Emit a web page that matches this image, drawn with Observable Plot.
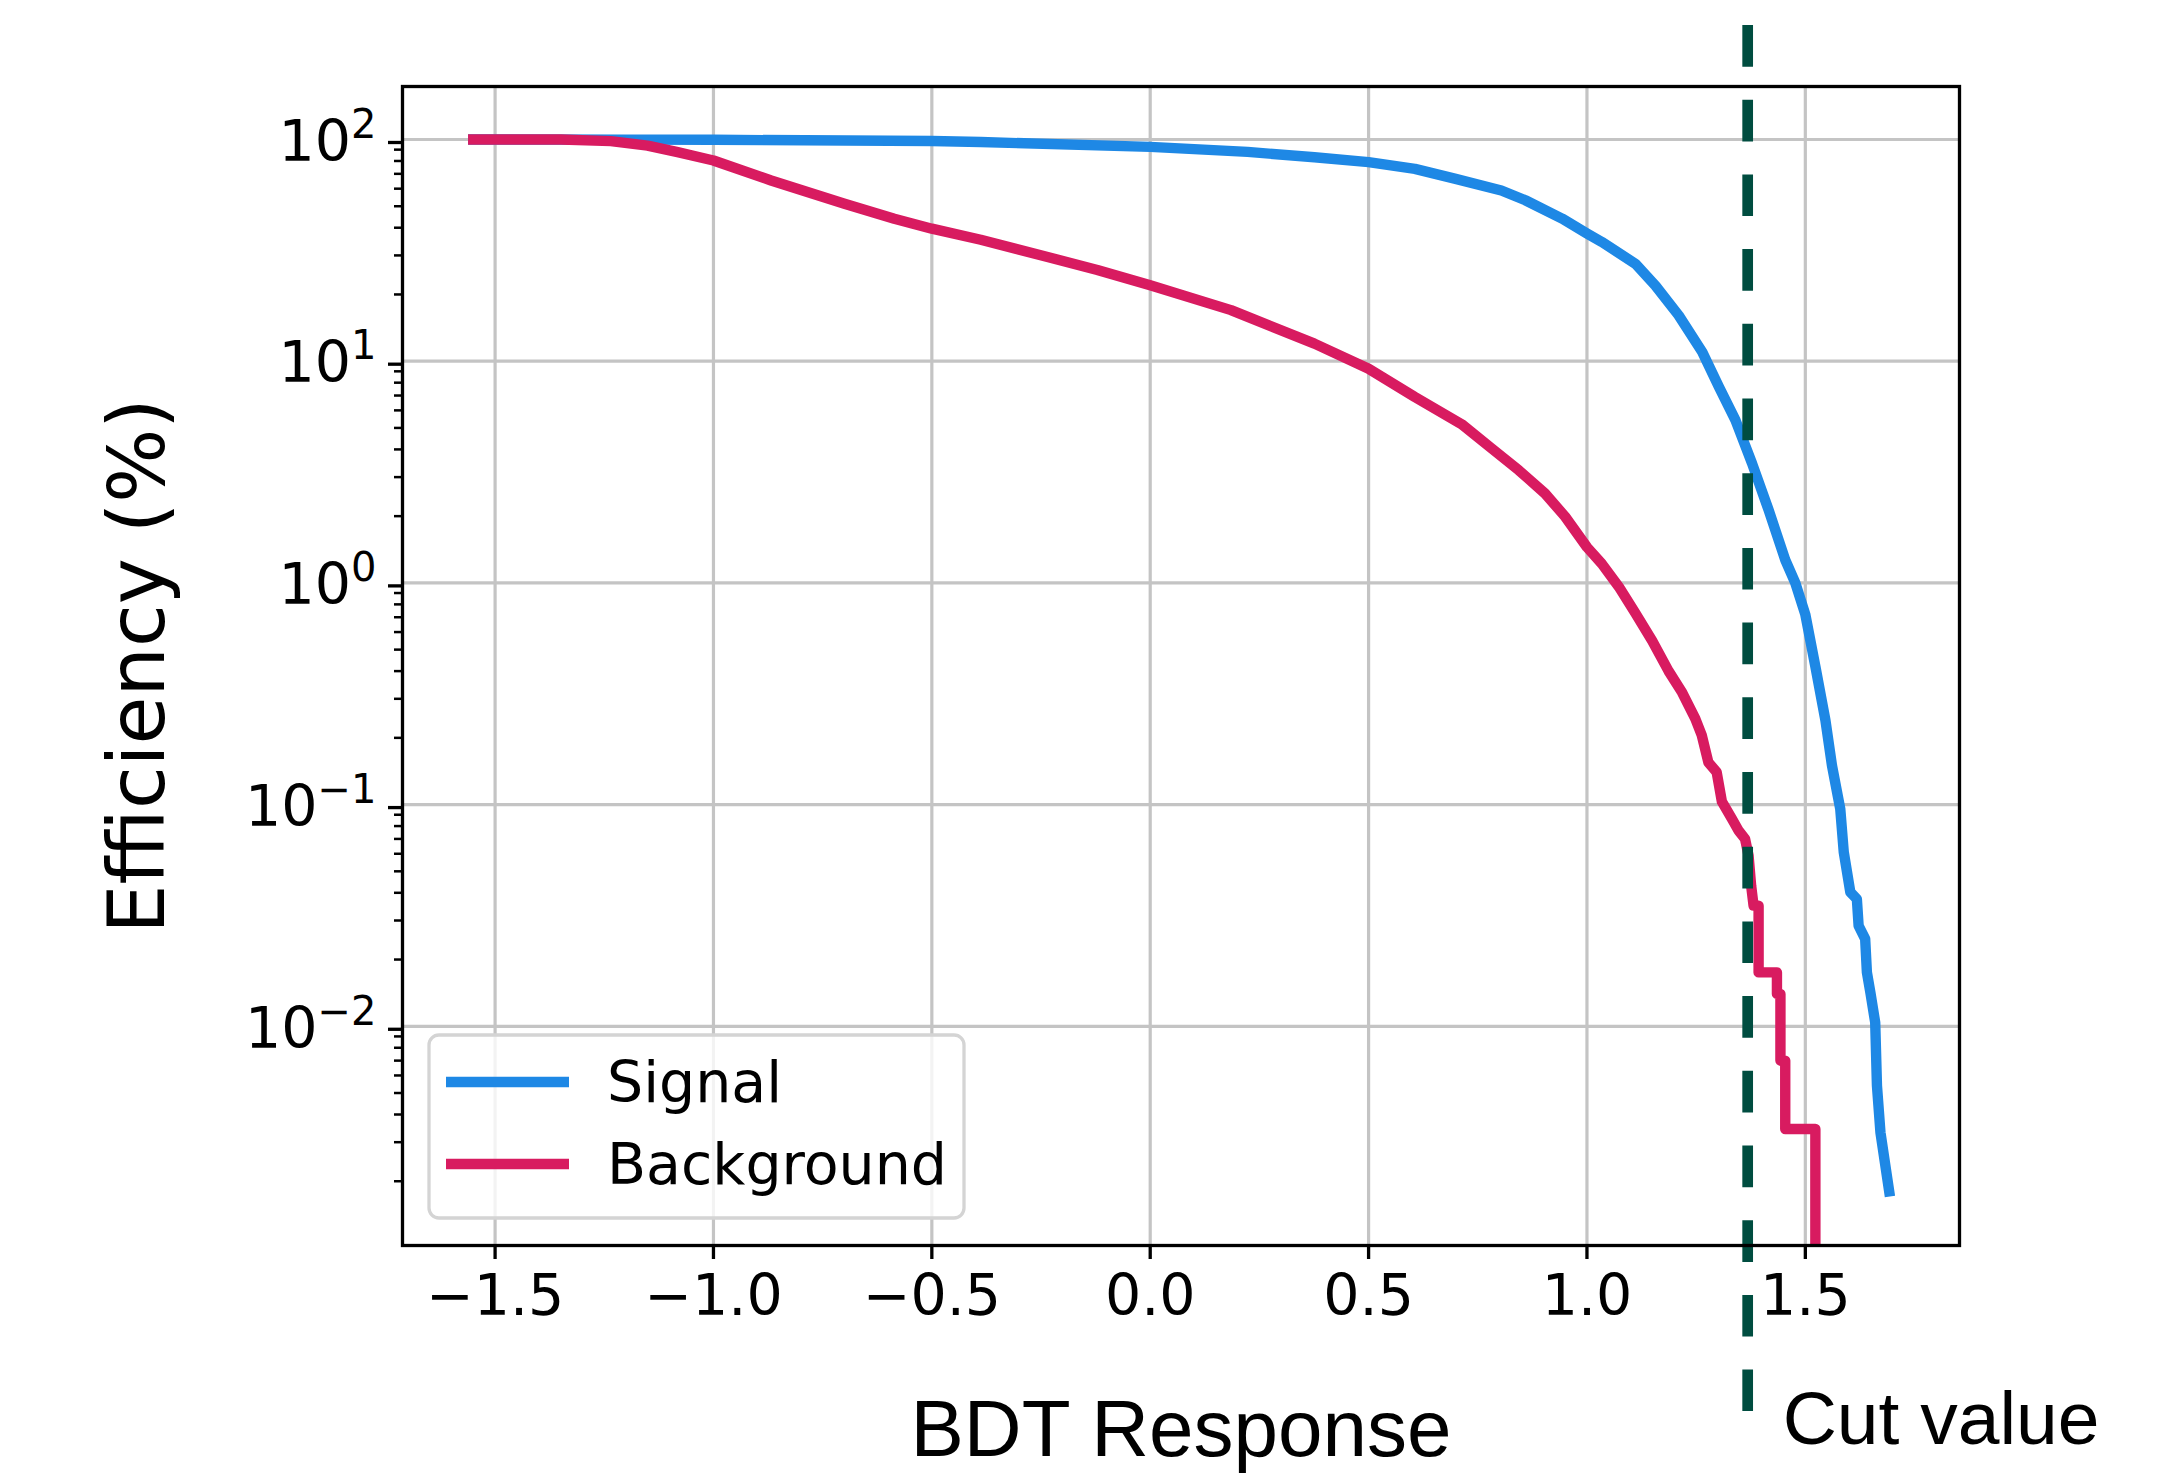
<!DOCTYPE html>
<html>
<head>
<meta charset="utf-8">
<script src="https://cdn.jsdelivr.net/npm/d3@7"></script>
<script src="https://cdn.jsdelivr.net/npm/@observablehq/plot@0.6"></script>
<style>
html, body { margin: 0; padding: 0; background: #ffffff; }
</style>
</head>
<body>
<div id="chart"></div>
<script>
// ---------------- data ----------------
const seriesNames = ["Signal", "Background"];
const seriesColors = ["#1E88E5", "#D81B60"];

const signalX = [-1.55, -1.2, -1.0, -0.5, -0.388, 0.0, 0.223, 0.376, 0.5, 0.606, 0.697, 0.804, 0.859, 0.943, 1.0, 1.034, 1.111, 1.157, 1.21, 1.264, 1.302, 1.34, 1.378, 1.416, 1.454, 1.477, 1.5, 1.523, 1.546, 1.561, 1.580, 1.588, 1.603, 1.618, 1.622, 1.637, 1.641, 1.649, 1.660, 1.664, 1.672, 1.692];
const signalY = [100, 99.9, 99.7, 98.4, 97.4, 92.6, 87.9, 83.2, 79.0, 73.7, 66.6, 58.9, 53.2, 44, 37.7, 34.5, 27.5, 21.9, 16.1, 11.0, 7.66, 5.42, 3.46, 2.13, 1.27, 1.0, 0.72, 0.42, 0.24, 0.15, 0.0955, 0.061, 0.0403, 0.0375, 0.0284, 0.0248, 0.0175, 0.0142, 0.0104, 0.0054, 0.00332, 0.0018];

const backgroundX = [-1.55, -1.349, -1.235, -1.151, -1.082, -1.0, -0.868, -0.7, -0.586, -0.5, -0.388, -0.235, -0.121, 0.0, 0.185, 0.376, 0.5, 0.606, 0.713, 0.782, 0.844, 0.904, 0.950, 1.0, 1.034, 1.073, 1.111, 1.149, 1.187, 1.218, 1.248, 1.263, 1.278, 1.297, 1.309, 1.332, 1.347, 1.362, 1.370, 1.376, 1.3815, 1.393, 1.393, 1.435, 1.435, 1.443, 1.443, 1.454, 1.454, 1.523, 1.523];
const backgroundY = [100, 100, 98.3, 93.9, 87.7, 80.4, 65.3, 51.3, 43.9, 39.6, 35.3, 29.5, 25.8, 22.0, 17.0, 12.0, 9.25, 6.89, 5.2, 4.04, 3.22, 2.53, 1.99, 1.45, 1.22, 0.96, 0.73, 0.55, 0.40, 0.32, 0.244, 0.205, 0.155, 0.14, 0.103, 0.0862, 0.0764, 0.070, 0.0589, 0.043, 0.035, 0.035, 0.0175, 0.0175, 0.014, 0.014, 0.0070, 0.0070, 0.00344, 0.00344, 0.0003];

const cutValue = 1.368;
const xTicks = [-1.5, -1.0, -0.5, 0.0, 0.5, 1.0, 1.5];
const yTicks = [0.01, 0.1, 1, 10, 100];
const minorMultipliers = [2, 3, 4, 5, 6, 7, 8, 9];
const minorDecades = [0.001, 0.01, 0.1, 1, 10, 100];

const xLabel = "BDT Response";
const yLabel = "Efficiency (%)";
const cutLabel = "Cut value";

// ---------------- build ----------------
const rows = [
  ...signalX.map((x, i) => ({series: "Signal", x, y: signalY[i]})),
  ...backgroundX.map((x, i) => ({series: "Background", x, y: backgroundY[i]}))
];

const yDomain = [0.001026, 173.4];
const minorTicks = minorDecades.flatMap(d => minorMultipliers.map(m => m * d))
  .filter(v => v >= yDomain[0] && v <= yDomain[1]);

const W = 2177, H = 1473;
const mL = 402, mR = 218, mT = 86, mB = 228;

const plot = Plot.plot({
  width: W,
  height: H,
  marginLeft: mL,
  marginRight: mR,
  marginTop: mT,
  marginBottom: mB,
  style: {
    fontFamily: "'DejaVu Sans', sans-serif",
    fontSize: "57px",
    color: "black",
    background: "white",
    overflow: "visible"
  },
  x: {domain: [-1.712, 1.853], label: null},
  y: {type: "log", domain: yDomain, label: null},
  color: {domain: seriesNames, range: seriesColors},
  marks: [
    Plot.gridX(xTicks, {stroke: "#c4c4c4", strokeOpacity: 1, strokeWidth: 3.2}),
    Plot.gridY(yTicks, {stroke: "#c4c4c4", strokeOpacity: 1, strokeWidth: 3.2}),
    Plot.line(rows, {
      x: "x", y: "y", z: "series", stroke: "series",
      strokeWidth: 10.4, strokeLinejoin: "round", strokeLinecap: "square", clip: true
    }),
    Plot.ruleX([cutValue], {
      stroke: "#004D40", strokeWidth: 10.7, strokeDasharray: "41.7 33",
      insetTop: -61, insetBottom: -166
    }),
    Plot.frame({stroke: "black", strokeWidth: 3.3}),
    Plot.axisX({
      ticks: xTicks, tickSize: 14, tickPadding: 15, strokeWidth: 3.3,
      tickFormat: d => d3.format(".1f")(d).replace("-", "\u2212"),
      label: null, fontSize: 57
    }),
    Plot.axisY({
      ticks: yTicks, tickSize: 14, tickPadding: 12, strokeWidth: 3.3,
      tickFormat: d => "10^" + Math.round(Math.log10(d)),
      label: null, fontSize: 57, dy: 3
    }),
    Plot.axisY({
      ticks: minorTicks, tickSize: 8, strokeWidth: 2.5,
      tickFormat: () => "", label: null
    }),
    Plot.text([xLabel], {
      frameAnchor: "bottom", lineAnchor: "bottom", textAnchor: "middle", dy: 210,
      fontFamily: "'Liberation Sans', Arial, sans-serif", fontSize: 80, fill: "black"
    }),
    Plot.text([yLabel], {
      frameAnchor: "left", lineAnchor: "bottom", textAnchor: "middle", rotate: -90, dx: -239,
      fontFamily: "'DejaVu Sans', sans-serif", fontSize: 78, fill: "black"
    }),
    Plot.text([cutValue], {
      x: d => d, text: () => cutLabel,
      frameAnchor: "bottom", lineAnchor: "bottom", textAnchor: "start",
      dx: 35, dy: 198,
      fontFamily: "'Liberation Sans', Arial, sans-serif", fontSize: 75, fill: "black"
    })
  ]
});

document.getElementById("chart").appendChild(plot);

// superscript exponents on y tick labels (mathtext-like)
d3.select(plot).selectAll('g[aria-label="y-axis tick label"] text').each(function () {
  const t = this.textContent;
  if (!t.includes("^")) return;
  const [base, exp] = t.split("^");
  const s = d3.select(this);
  s.text(null);
  s.append("tspan").text(base);
  s.append("tspan").attr("dy", "-23px").attr("font-size", "40px").text(exp.replace("-", "\u2212"));
});

// legend inside the plot frame (lower left)
const frameBottom = H - mB;
const lg = d3.select(plot).append("g")
  .attr("font-family", "'DejaVu Sans', sans-serif")
  .attr("font-size", 57)
  .attr("text-anchor", "start")
  .attr("fill", "black");
const boxX = mL + 27, boxW = 535, boxH = 183, boxY = frameBottom - 27 - boxH;
lg.append("rect")
  .attr("x", boxX).attr("y", boxY).attr("width", boxW).attr("height", boxH)
  .attr("rx", 10).attr("ry", 10)
  .attr("fill", "white").attr("fill-opacity", 0.8)
  .attr("stroke", "#d4d4d4").attr("stroke-width", 3.3);
seriesNames.forEach((name, i) => {
  const cy = boxY + 47 + i * 82;
  lg.append("line")
    .attr("x1", boxX + 17).attr("x2", boxX + 140)
    .attr("y1", cy).attr("y2", cy)
    .attr("stroke", seriesColors[i]).attr("stroke-width", 10.4);
  lg.append("text")
    .attr("x", boxX + 178).attr("y", cy + 20)
    .attr("text-anchor", "start")
    .text(name);
});
</script>
</body>
</html>
